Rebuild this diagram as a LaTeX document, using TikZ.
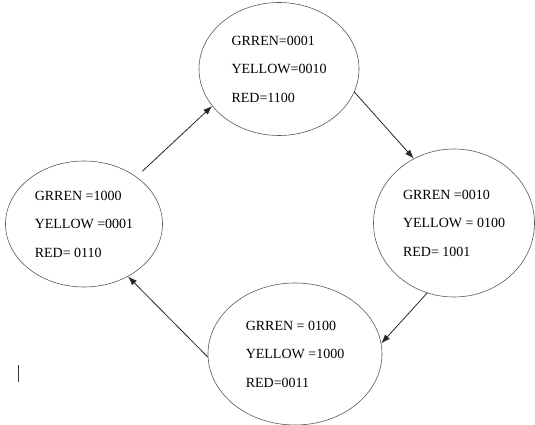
\documentclass[tikz,border=0pt]{standalone}
\usepackage{fontspec}
\setmainfont{Liberation Serif}
\usepackage{tikz}
\usetikzlibrary{arrows.meta,shapes.geometric}
\tikzset{
  state/.style={draw=black!65, ellipse, line width=0.6pt, align=left, inner sep=2pt, font=\fontsize{14}{28.5}\selectfont},
  arr/.style={-{Latex[length=9pt,width=6.5pt]}, line width=0.8pt, black!85},
}

\begin{document}
\begin{tikzpicture}[x=1pt,y=1pt]
\useasboundingbox (0,0) rectangle (535,425);
\foreach \n/\t/\x/\y/\w/\h in {1/{GRREN=0001\\YELLOW=0010\\RED=1100}/279/356/160/133, 2/{GRREN =0010\\YELLOW = 0100\\RED= 1001}/454/202/161/148, 3/{GRREN = 0100\\YELLOW =1000\\RED=0011}/295/71/174/142, 4/{GRREN =1000\\YELLOW =0001\\RED= 0110}/84/201/157/126} {
  \node[state, minimum width=\w pt, minimum height=\h pt] (s\n) at (\x,\y) {\t};
}
\draw[arr, shorten <=8pt] (s4.42) -- (s1.209);
\draw[arr] (s1.343) -- (s2.122);
\draw[arr] (s2.249) -- (s3.7);
\draw[arr] (s3.182) -- (s4.310);
\draw[line width=1.6pt, black!80] (18.3,43) -- (18.3,60);
\end{tikzpicture}
\end{document}
